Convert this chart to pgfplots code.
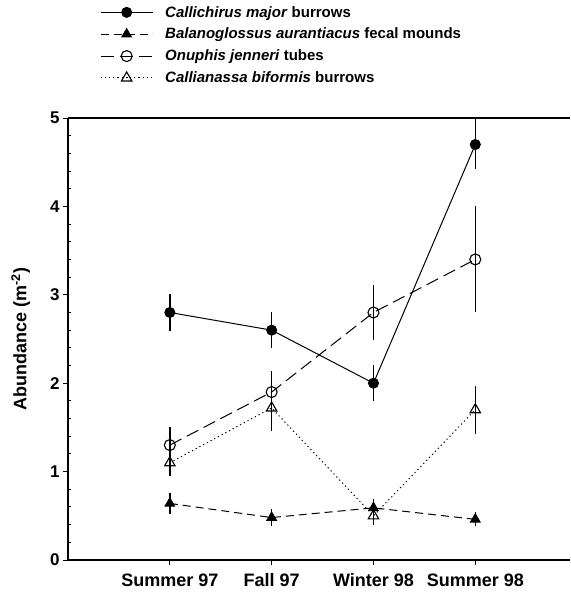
\documentclass[border=0pt]{standalone}
\usepackage{pgfplots}
\pgfplotsset{compat=1.18}
\usepackage{fontspec}
\setmainfont{Liberation Sans}
\begin{document}
\begin{tikzpicture}[x=1pt,y=1pt]
\begin{axis}[
  at={(0,0)}, anchor=south west,
  scale only axis, width=502pt, height=442pt,
  xmin=-1, xmax=3.93, ymin=0, ymax=5,
  axis x line*=box, axis y line*=left,
  axis line style={line width=1.2pt},
  xtick={0,1,2,3},
  xticklabels={Summer 97, Fall 97, Winter 98, Summer 98},
  xtick pos=bottom, ytick pos=left,
  ytick={0,1,2,3,4,5},
  minor y tick num=4,
  tick align=outside,
  major tick length=5pt,
  minor tick length=-3pt,
  tick style={line width=1pt, black},
  /pgf/number format/assume math mode=true,
  yticklabel style={font=\bfseries\fontsize{17}{19}\selectfont},
  xticklabel style={font=\bfseries\fontsize{18}{20}\selectfont, yshift=-5pt},
  ylabel={Abundance (m\textsuperscript{-2})},
  ylabel style={font=\bfseries\fontsize{18}{20}\selectfont, at={(axis description cs:-0.094,0.5)}, anchor=center},
  legend style={draw=none, fill=none, at={(0.0637,1.258)}, anchor=north west,
    font=\bfseries\fontsize{15}{18}\selectfont, row sep=5.5pt, inner sep=0pt,
    /tikz/every odd column/.append style={column sep=10pt}},
  legend cell align=left,
  legend image code/.code={\draw[mark repeat=2,mark phase=2,#1] plot coordinates {(0pt,0pt) (26pt,0pt) (52pt,0pt)};},
  error bars/y dir=both, error bars/y explicit,
  error bars/error mark=none,
  error bars/error bar style={line width=1.6pt, solid},
  clip=true,
]
% Callichirus major burrows
\addplot[black, line width=1pt, mark=*, mark size=5pt, mark options={solid, fill=black}]
  table[x=x, y=y, y error plus=ep, y error minus=em] {
x y ep em
0 2.80 0.21 0.21
1 2.60 0.20 0.20
2 2.00 0.21 0.20
3 4.70 0.30 0.28
};
\addlegendentry{\textit{Callichirus major} burrows}
% Balanoglossus aurantiacus fecal mounds
\addplot[black, line width=1pt, dash pattern=on 8pt off 5pt, mark=triangle*, mark size=5.5pt, mark options={solid, fill=black}]
  table[x=x, y=y, y error plus=ep, y error minus=em] {
x y ep em
0 0.64 0.12 0.12
1 0.48 0.10 0.10
2 0.59 0.10 0.10
3 0.46 0.08 0.08
};
\addlegendentry{\textit{Balanoglossus aurantiacus} fecal mounds}
% Onuphis jenneri tubes
\addplot[black, line width=1pt, dash pattern=on 13pt off 6pt, mark=o, mark size=5.5pt, mark options={solid, fill=white, line width=1.1pt}]
  table[x=x, y=y, y error plus=ep, y error minus=em] {
x y ep em
0 1.30 0.20 0.20
1 1.90 0.24 0.24
2 2.80 0.31 0.31
3 3.40 0.60 0.60
};
\addlegendentry{\textit{Onuphis jenneri} tubes}
% Callianassa biformis burrows
\addplot[black, line width=1pt, dash pattern=on 1.2pt off 3pt, mark=triangle, mark size=6pt, mark options={solid, fill=white, line width=1.1pt}]
  table[x=x, y=y, y error plus=ep, y error minus=em] {
x y ep em
0 1.10 0.15 0.15
1 1.72 0.26 0.26
2 0.50 0.10 0.10
3 1.70 0.27 0.27
};
\addlegendentry{\textit{Callianassa biformis} burrows}
\end{axis}
\pgfresetboundingbox
\path[use as bounding box] (-68,-34) rectangle (502,560);
\end{tikzpicture}
\end{document}
